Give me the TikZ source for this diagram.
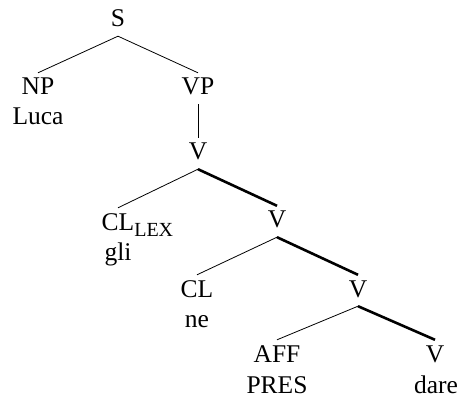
\documentclass[tikz,border=0pt]{standalone}
\usepackage{fontspec}
\setmainfont{Liberation Serif}

\begin{document}
\begin{tikzpicture}[
  x=1pt,y=-1pt,
  font=\fontsize{25.5}{30}\selectfont,
  cat/.style={anchor=base,inner xsep=0pt,inner ysep=5pt,
    text height=17pt,text depth=4pt},
  word/.style={anchor=base,inner sep=0pt},
  branch/.style={line width=.8pt,draw=black},
  headline/.style={line width=2.6pt,draw=black}
]

\useasboundingbox (0,0) rectangle (461,401);

% categories
\node[cat] (s)   at (118,27)  {S};
\node[cat] (np)  at (38,95)   {NP};
\node[cat] (vp)  at (198,95)  {VP};
\node[cat] (va)  at (198,160) {V};
\node[cat] (cla) at (118,230)
  {CL\rlap{\raisebox{-6pt}{\fontsize{20}{22}\selectfont LEX}}};
\node[cat] (vb)  at (277,228) {V};
\node[cat] (clb) at (197,297) {CL};
\node[cat] (vc)  at (358,297) {V};
\node[cat] (aff) at (277,362) {AFF};
\node[cat] (vd)  at (435,362) {V};

% lexical items
\node[word] (luca) at (38,125)  {Luca};
\node[word] (gli)  at (118,260) {gli};
\node[word] (ne)   at (197,327) {ne};
\node[word] (pres) at (277,393) {PRES};
\node[word] (dare) at (436,393) {dare};

% branches
\draw[branch] (s.south) -- (np.north);
\draw[branch] (s.south) -- (vp.north);
\draw[branch] (vp.south) -- (va.north);
\draw[branch] (va.south) -- (cla.north);
\draw[branch] (vb.south) -- (clb.north);
\draw[branch] (vc.south) -- (aff.north);

% head path
\draw[headline] (va.south) -- (vb.north);
\draw[headline] (vb.south) -- (vc.north);
\draw[headline] (vc.south) -- (vd.north);

\end{tikzpicture}
\end{document}
